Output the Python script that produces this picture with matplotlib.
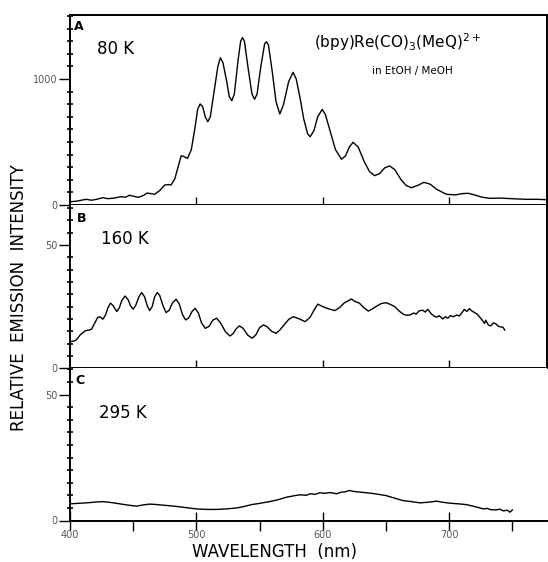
import numpy as np
import matplotlib
matplotlib.use("Agg")
import matplotlib.pyplot as plt
from matplotlib.ticker import MultipleLocator, FixedLocator

# ---------- data ----------
# panel A, 80 K
wl_80 = [400, 405, 410, 413, 417, 421, 426, 430, 435, 440, 444, 447, 451, 454,
         458, 461, 464, 467, 471, 475, 478, 480, 483, 486, 488, 490, 493, 496,
         499, 501, 503, 505, 507, 509, 511, 514, 517, 519, 521, 524, 526, 528,
         530, 533, 535, 536.5, 538, 541, 544, 546, 548, 551, 554, 555.5, 557,
         560, 563, 566, 569, 573, 576.5, 579, 582, 585, 588, 590, 593, 596,
         599.5, 602, 606, 610, 614.8, 618, 621, 624, 628, 633, 637, 641, 645,
         649, 653, 657, 662, 666, 670, 675, 680, 685, 690, 697.8, 705, 710,
         715, 720, 726, 732, 740, 750, 761, 770, 778]
int_80 = [26, 30, 40, 45, 38, 45, 58, 50, 55, 66, 62, 77, 68, 61,
          75, 95, 90, 85, 115, 159, 162, 159, 210, 320, 391, 385, 370, 440,
          620, 760, 802, 780, 700, 661, 700, 900, 1100, 1169, 1130, 980, 860, 828,
          880, 1150, 1300, 1328, 1300, 1080, 880, 839, 880, 1100, 1280, 1296, 1270,
          1060, 820, 722, 800, 980, 1053, 1000, 850, 680, 565, 542, 590, 700,
          759, 720, 580, 440, 363, 390, 460, 498, 460, 340, 265, 233, 250,
          295, 310, 280, 200, 155, 137, 155, 180, 165, 125, 85, 80, 90,
          93, 80, 62, 53, 55, 50, 45, 45, 42]

# panel B, 160 K
wl_160 = [400, 403, 405, 408, 412, 415, 417, 419, 422, 424, 426, 428, 430, 432,
          434, 437, 439, 441, 443.5, 446, 448, 450, 452, 454.5, 456.7, 459, 461,
          463, 465, 467, 469, 471, 473.5, 476, 478.5, 481, 484, 486.5, 489,
          491.5, 494, 496.5, 499, 501.5, 504, 507, 510, 513, 516, 519, 523,
          526.5, 529, 531.5, 534, 537, 540.5, 544, 547, 550, 553, 556, 559.5,
          563, 566, 570, 573, 576.5, 579, 582, 586, 590, 593, 596, 600, 604,
          609.5, 613, 617, 622.7, 625, 629, 632, 636, 639, 642, 646, 650, 653,
          657, 660, 663.5, 666, 669, 672, 674, 676, 679, 681, 683, 686, 688,
          690, 692, 695, 697, 699, 701, 703, 706, 708, 710, 712, 714, 716,
          717.5, 720, 722, 724, 726, 728, 729, 731, 733, 735, 737, 739, 741,
          742.6, 744]
int_160 = [10.8, 11.0, 11.5, 13.5, 15.2, 15.5, 15.8, 17.8, 20.7, 20.8, 19.9, 21.5, 24.5, 26.4,
           25.5, 23.0, 24.5, 27.5, 29.3, 27.8, 25.2, 24.0, 25.5, 29.0, 30.7, 29.0, 25.5,
           23.4, 25.0, 29.0, 30.7, 29.5, 25.5, 22.6, 23.5, 26.5, 28.0, 26.0, 21.8,
           19.6, 20.5, 23.0, 24.3, 22.5, 18.5, 16.2, 17.0, 19.5, 20.3, 18.5, 14.8,
           13.1, 14.0, 16.0, 17.2, 16.2, 13.5, 12.2, 13.5, 16.5, 17.6, 16.8, 15.0,
           14.2, 15.5, 18.0, 19.8, 20.9, 20.5, 19.9, 18.9, 20.7, 23.5, 26.0, 25.0, 24.2,
           23.4, 24.5, 26.5, 28.1, 27.2, 26.4, 24.8, 23.2, 24.0, 25.0, 26.2, 26.6, 26.0,
           25.0, 23.4, 22.0, 21.5, 21.6, 22.4, 22.0, 23.2, 23.6, 22.8, 23.9, 22.0, 21.2,
           20.7, 21.3, 20.0, 20.9, 20.3, 21.4, 20.9, 21.6, 21.2, 22.5, 23.9, 23.0, 24.2,
           23.4, 22.6, 22.0, 20.9, 19.6, 18.2, 19.5, 17.5, 17.2, 18.4, 18.0, 17.0, 16.8,
           16.6, 15.5]

# panel C, 295 K
wl_295 = [400, 406, 413, 420, 426, 433, 439.5, 446, 452.7, 458, 463, 467, 471,
          478, 484, 492, 500, 508, 516, 524, 532, 538, 543.6, 550, 558, 565,
          571, 577, 582, 587, 590, 594, 597.6, 602, 606, 611, 614, 618, 621,
          625, 629, 634.5, 640, 645, 650, 656, 663.5, 670, 677, 682, 686, 690,
          694, 700, 705, 710, 713.6, 718, 722, 727, 730, 733, 737, 740, 743,
          746, 748, 750]
int_295 = [6.6, 6.8, 7.0, 7.3, 7.5, 7.1, 6.6, 6.1, 5.7, 6.2, 6.5, 6.4, 6.2,
           5.9, 5.6, 5.1, 4.6, 4.4, 4.4, 4.6, 5.0, 5.6, 6.3, 6.8, 7.5, 8.3,
           9.2, 9.8, 10.2, 10.0, 10.6, 10.4, 11.0, 10.8, 11.1, 10.6, 11.2, 11.4, 11.9,
           11.5, 11.3, 11.0, 10.7, 10.3, 9.9, 9.0, 7.9, 7.5, 7.0, 7.2, 7.4, 7.7,
           7.3, 6.9, 6.7, 6.5, 6.3, 5.8, 5.3, 4.6, 4.8, 4.3, 4.2, 4.5, 3.8,
           4.1, 3.3, 4.2]

# ---------- figure ----------
W, H = 548, 562
fig = plt.figure(figsize=(W / 100, H / 100), dpi=100)
plt.rcParams["font.family"] = ["DejaVu Sans"]


def fx(x):
    return x / W


def fy(y):
    return 1 - y / H


left, right = 70, 546.5
panels = [
    (15, 205, 1508, wl_80, int_80, 1000, 100),
    (205, 368.3, 66.2, wl_160, int_160, 50, 5),
    (368.3, 520.5, 60.4, wl_295, int_295, 50, 5),
]

axes = []
for i, (top, bot, ymax, wl, inten, major, minor) in enumerate(panels):
    ax = fig.add_axes([fx(left), fy(bot), fx(right) - fx(left), (bot - top) / H])
    ax.plot(wl, inten, color="black", lw=1.0)
    ax.set_xlim(400, 777)
    ax.set_ylim(0, ymax)
    for sp in ax.spines.values():
        sp.set_linewidth(1.4)
    ax.spines["top"].set_visible(i == 0)
    ax.spines["right"].set_visible(i < 2)

    ax.yaxis.set_major_locator(FixedLocator([0, major]))
    ax.yaxis.set_minor_locator(MultipleLocator(minor))
    ax.tick_params(axis="y", which="major", direction="out", length=8,
                   width=1.0, labelsize=7, labelcolor="#555555", pad=1)
    ax.tick_params(axis="y", which="minor", direction="inout", length=4,
                   width=1.2)
    ax.tick_params(axis="y", right=False)

    if i < 2:
        ax.xaxis.set_major_locator(FixedLocator([500, 600, 700]))
        ax.tick_params(axis="x", which="major", direction="inout", length=11,
                       width=1.0, labelbottom=False, top=False)
    else:
        ax.xaxis.set_major_locator(FixedLocator([400, 500, 600, 700]))
        ax.xaxis.set_minor_locator(FixedLocator([450, 550, 650, 750]))
        ax.tick_params(axis="x", which="major", direction="inout", length=13,
                       width=1.0, labelsize=7, labelcolor="#555555", pad=0)
        ax.tick_params(axis="x", which="minor", direction="out", length=7,
                       width=1.0)
    axes.append(ax)

# panel letters and temperatures
fig.text(fx(79), fy(27), "A", fontsize=9, fontweight="bold", ha="center", va="center")
fig.text(fx(82), fy(218), "B", fontsize=9, fontweight="bold", ha="center", va="center")
fig.text(fx(80), fy(380), "C", fontsize=9, fontweight="bold", ha="center", va="center")
fig.text(fx(116), fy(49), "80 K", fontsize=12, ha="center", va="center")
fig.text(fx(125), fy(239), "160 K", fontsize=12, ha="center", va="center")
fig.text(fx(123), fy(413), "295 K", fontsize=12, ha="center", va="center")

fig.text(fx(397), fy(42), r"(bpy)Re(CO)$_3$(MeQ)$^{2+}$", fontsize=11,
         ha="center", va="center")
fig.text(fx(412), fy(71), "in EtOH / MeOH", fontsize=7.5, ha="center", va="center")

fig.text(fx(19), fy(298), "RELATIVE  EMISSION  INTENSITY", fontsize=12,
         rotation=90, ha="center", va="center")
fig.text(fx(275), fy(552), "WAVELENGTH  (nm)", fontsize=12, ha="center", va="center")

fig.savefig("out.png", dpi=100)
